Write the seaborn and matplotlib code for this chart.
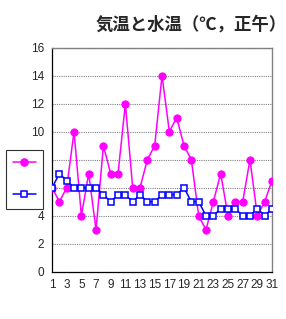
import matplotlib
matplotlib.use('Agg')
import matplotlib.pyplot as plt
import numpy as np
import pandas as pd
import seaborn as sns
from matplotlib.lines import Line2D

days = list(range(1, 32))
air_temp = [6, 5, 6, 10, 4, 7, 3, 9, 7, 7, 12, 6, 6, 8, 9, 14, 10, 11, 9, 8,
            4, 3, 5, 7, 4, 5, 5, 8, 4, 5, 6.5]
water_temp = [6, 7, 6.5, 6, 6, 6, 6, 5.5, 5, 5.5, 5.5, 5, 5.5, 5, 5, 5.5, 5.5, 5.5, 6, 5,
              5, 4, 4, 4.5, 4.5, 4.5, 4, 4, 4.5, 4, 4.5]
title = '気温と水温（℃，正午）'

sns.set_style('white')
plt.rcParams['font.family'] = ['Liberation Sans', 'DejaVu Sans']

AIR = '#FF00FF'
WATER = '#0000FF'

df = pd.DataFrame({'day': days, 'air': air_temp, 'water': water_temp})

fig = plt.figure(figsize=(2.86, 3.19), dpi=100)
ax = fig.add_axes([0.182, 0.148, 0.769, 0.703])

sns.lineplot(data=df, x='day', y='air', ax=ax, color=AIR, lw=1.1,
             marker='o', markersize=5.2, markeredgecolor=AIR, zorder=3)
sns.lineplot(data=df, x='day', y='water', ax=ax, color=WATER, lw=1.1,
             marker='s', markersize=5, markerfacecolor='white',
             markeredgecolor=WATER, markeredgewidth=1.1, zorder=4)

ax.set_xlim(1, 31)
ax.set_ylim(0, 16)
ax.set_xticks(range(1, 32, 2))
ax.set_xticks(range(1, 32), minor=True)
ax.set_yticks(range(0, 17, 2))
ax.tick_params(axis='both', which='both', direction='out', length=3.5,
               width=0.8, color='black', labelsize=8.5, pad=2)
ax.set_xlabel('')
ax.set_ylabel('')
ax.yaxis.grid(True, linestyle=(0, (1, 1)), color='#808080', lw=0.8)
ax.set_axisbelow(True)
for s in ['left', 'bottom']:
    ax.spines[s].set_color('black')
    ax.spines[s].set_linewidth(0.9)
for s in ['top', 'right']:
    ax.spines[s].set_color('#808080')
    ax.spines[s].set_linewidth(1.0)

fig.text(0.668, 0.922, title, ha='center', va='center', fontsize=12.5,
         fontweight='bold', family=['Noto Sans CJK JP', 'DejaVu Sans'])

handles = [
    Line2D([], [], color=AIR, lw=1.1, marker='o', markersize=5.2),
    Line2D([], [], color=WATER, lw=1.1, marker='s', markersize=5,
           markerfacecolor='white', markeredgewidth=1.1),
]
leg = ax.legend(handles, ['', ''], loc='upper left',
                bbox_to_anchor=(0.02, 0.53), bbox_transform=fig.transFigure,
                fontsize=9, handlelength=1.8, handletextpad=0, borderpad=0.6,
                borderaxespad=0, labelspacing=1.6, fancybox=False,
                framealpha=1, edgecolor='#333333')
leg.get_frame().set_linewidth(0.8)

fig.savefig('out.png', dpi=100)
